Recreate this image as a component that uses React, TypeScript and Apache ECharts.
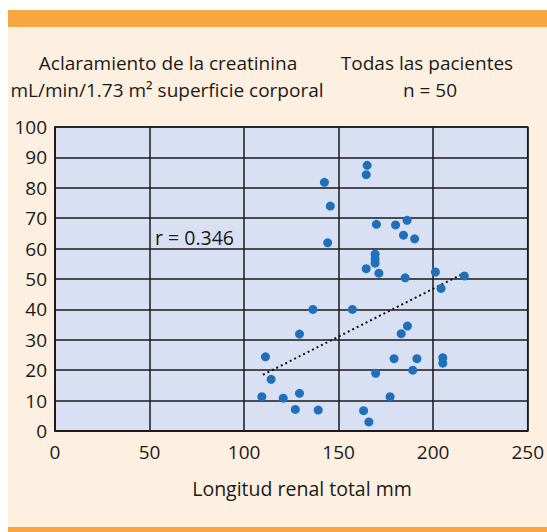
import React, { useEffect, useRef } from "react";
import * as echarts from "echarts";

const lengthMm = [
  165.1, 164.6, 142.5, 145.6, 170.0, 180.1, 186.2, 184.3, 190.2, 144.2,
  169.3, 169.3, 169.3, 164.6, 171.3, 185.2, 201.2, 216.5, 204.2, 136.4,
  157.3, 186.4, 183.1, 129.3, 111.3, 179.3, 191.4, 205.1, 205.1, 189.2,
  169.6, 114.3, 109.4, 120.7, 129.3, 177.2, 127.1, 139.2, 163.2, 166.0,
];
const clearance = [
  87.4, 84.3, 81.8, 74.0, 68.0, 67.8, 69.3, 64.4, 63.2, 61.9,
  58.2, 56.6, 55.2, 53.4, 51.9, 50.4, 52.3, 51.0, 46.9, 40.0,
  40.0, 34.5, 32.0, 31.9, 24.4, 23.8, 23.8, 24.1, 22.3, 20.0,
  19.0, 17.0, 11.3, 10.8, 12.4, 11.3, 7.1, 6.9, 6.7, 3.0,
];
const trendX = [110, 215];
const trendY = [18.5, 51.5];
const xTicks = [0, 50, 100, 150, 200, 250];
const yTicks = [0, 10, 20, 30, 40, 50, 60, 70, 80, 90, 100];

const FONT = "'Open Sans', Lato, sans-serif";
const INK = "#1a1a1a";

export default function App() {
  const ref = useRef<HTMLDivElement>(null);
  useEffect(() => {
    if (!ref.current) return;
    const chart = echarts.init(ref.current, null, { renderer: "svg" });
    const points = lengthMm.map((x, i) => [x, clearance[i]]);
    const trend = trendX.map((x, i) => [x, trendY[i]]);
    const txt = (text: string, x: number, y: number, size: number, align = "center") => ({
      type: "text", x, y, z: 10,
      style: { text, fontSize: size, fontFamily: FONT, fill: INK, align, verticalAlign: "middle" },
    });
    chart.setOption({
      animation: false,
      backgroundColor: "#ffffff",
      textStyle: { fontFamily: FONT },
      graphic: [
        { type: "rect", z: -10, silent: true, shape: { x: 8, y: 10, width: 539, height: 522 }, style: { fill: "#fef0e0" } },
        { type: "rect", z: -9, silent: true, shape: { x: 8, y: 10, width: 539, height: 17 }, style: { fill: "#f7a642" } },
        { type: "rect", z: -9, silent: true, shape: { x: 8, y: 527, width: 539, height: 5 }, style: { fill: "#f7a642" } },
        txt("Aclaramiento de la creatinina", 168, 63, 19),
        txt("mL/min/1.73 m² superficie corporal", 167, 90, 19),
        txt("Todas las pacientes", 427, 63, 19),
        txt("n = 50", 430, 90, 19),
        txt("Longitud renal total mm", 302, 488, 19.5),
        txt("r = 0.346", 155, 237, 19.5, "left"),
      ],
      grid: {
        left: 55, right: 10, top: 127, bottom: 101,
        show: true, backgroundColor: "#d9e0f3", borderColor: INK, borderWidth: 1.5,
      },
      xAxis: {
        type: "value", min: xTicks[0], max: xTicks[xTicks.length - 1], interval: 50,
        axisLine: { show: true, lineStyle: { color: INK, width: 1.5 } },
        axisTick: { show: false },
        splitLine: { show: true, lineStyle: { color: INK, width: 1.5 } },
        axisLabel: { color: INK, fontSize: 19, fontFamily: FONT, margin: 11 },
      },
      yAxis: {
        type: "value", min: yTicks[0], max: yTicks[yTicks.length - 1], interval: 10,
        axisLine: { show: true, lineStyle: { color: INK, width: 1.5 } },
        axisTick: { show: false },
        splitLine: { show: true, lineStyle: { color: INK, width: 1.5 } },
        axisLabel: { color: INK, fontSize: 19, fontFamily: FONT, margin: 8 },
      },
      series: [
        {
          type: "line", data: trend, symbol: "none", z: 3,
          lineStyle: { color: "#111", width: 2, type: [2, 3] },
        },
        {
          type: "scatter", data: points, symbolSize: 9, z: 4,
          itemStyle: { color: "#1f70bb", opacity: 1 },
        },
      ],
    });
    return () => chart.dispose();
  }, []);
  return <div ref={ref} style={{ position: "absolute", left: 0, top: 0, width: 547, height: 532 }} />;
}
